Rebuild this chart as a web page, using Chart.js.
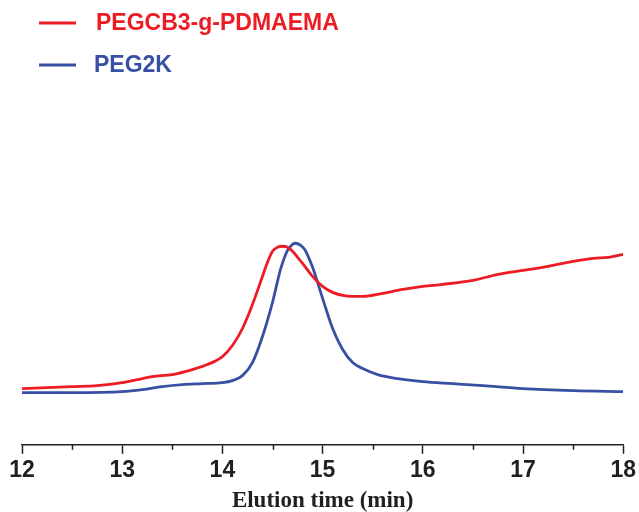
<!DOCTYPE html>
<html>
<head>
<meta charset="utf-8">
<script src="https://cdn.jsdelivr.net/npm/chart.js@4.4.0/dist/chart.umd.min.js"></script>
<style>
html,body{margin:0;padding:0;background:#fff;}
#wrap{width:639px;height:512px;position:relative;}
</style>
</head>
<body>
<div id="wrap"><canvas id="c" width="639" height="512"></canvas></div>
<script>
// Elution time (min)
const redTime = [12.00,12.25,12.50,12.75,13.00,13.15,13.30,13.50,13.70,13.85,14.00,14.10,14.20,14.30,14.40,14.45,14.50,14.55,14.60,14.65,14.70,14.75,14.80,14.90,15.00,15.10,15.20,15.30,15.40,15.60,15.80,16.00,16.20,16.50,16.75,17.00,17.25,17.50,17.70,17.85,18.00];
const redSignal = [53,54,55,56,59,62,65,67,72,77,85,96,113,137,165,179,190,194,195,194,190,184,178,165,155,149,146,145,145,148,152,155,157,161,167,171,175,180,183,184,187];
const blueTime = [12.00,12.50,13.00,13.20,13.40,13.60,13.80,14.00,14.10,14.20,14.30,14.40,14.50,14.58,14.65,14.70,14.73,14.78,14.82,14.90,15.00,15.10,15.20,15.30,15.40,15.55,15.75,16.00,16.30,16.60,17.00,17.50,18.00];
const blueSignal = [49,49,50,52,55,57,58,59,61,66,79,105,139,172,191,197,198,196,192,174,143,113,92,79,73,67,63,60,58,56,53,51,50];
const xTicks = [12,13,14,15,16,17,18];
const minorTicks = [12.5,13.5,14.5,15.5,16.5,17.5];
const seriesNames = ['PEGCB3-g-PDMAEMA','PEG2K'];
const seriesColors = ['#ED1C24','#3850A4'];

const toXY = (xs, ys) => xs.map((x,i)=>({x:x, y:ys[i]}));

const legendPlugin = {
  id:'customLegend',
  afterDraw(chart){
    const ctx = chart.ctx;
    ctx.save();
    const rows = [23, 65];
    seriesNames.forEach((name,i)=>{
      ctx.strokeStyle = seriesColors[i];
      ctx.lineWidth = 3;
      ctx.beginPath();
      ctx.moveTo(39, rows[i]);
      ctx.lineTo(76, rows[i]);
      ctx.stroke();
      ctx.fillStyle = seriesColors[i];
      ctx.font = 'bold 23px "Liberation Sans", Arial, sans-serif';
      ctx.textBaseline = 'middle';
      ctx.fillText(name, i===0 ? 96 : 94, rows[i]+1);
    });
    ctx.restore();
  }
};

const minorTickPlugin = {
  id:'minorTicks',
  afterDraw(chart){
    const sx = chart.scales.x;
    const ctx = chart.ctx;
    ctx.save();
    ctx.strokeStyle = '#231F20';
    ctx.lineWidth = 1.5;
    minorTicks.forEach(v=>{
      const px = Math.round(sx.getPixelForValue(v))+0.5;
      ctx.beginPath();
      ctx.moveTo(px, sx.top);
      ctx.lineTo(px, sx.top+5);
      ctx.stroke();
    });
    ctx.restore();
  }
};

new Chart(document.getElementById('c'), {
  type:'line',
  data:{
    datasets:[
      {label:seriesNames[0], data:toXY(redTime, redSignal), borderColor:seriesColors[0], borderWidth:2.8, pointRadius:0, cubicInterpolationMode:'monotone', fill:false},
      {label:seriesNames[1], data:toXY(blueTime, blueSignal), borderColor:seriesColors[1], borderWidth:2.8, pointRadius:0, cubicInterpolationMode:'monotone', fill:false}
    ]
  },
  options:{
    responsive:false,
    animation:false,
    layout:{padding:{top:144, left:22, right:6, bottom:-5}},
    plugins:{legend:{display:false}, tooltip:{enabled:false}},
    scales:{
      x:{
        type:'linear', min:12, max:18,
        afterBuildTicks(axis){ axis.ticks = xTicks.map(v=>({value:v})); },
        border:{display:true, color:'#231F20', width:1.5},
        grid:{drawOnChartArea:false, drawTicks:true, tickLength:9, tickColor:'#231F20', tickWidth:1.5},
        ticks:{color:'#231F20', padding:3, font:{family:'"Liberation Sans", Arial, sans-serif', size:23, weight:'bold'}},
        title:{display:true, text:'Elution time (min)', color:'#231F20', padding:{top:0,bottom:2}, font:{family:'"Liberation Serif", "Times New Roman", serif', size:23, weight:'bold'}}
      },
      y:{
        type:'linear', min:-3, max:297, display:false
      }
    }
  },
  plugins:[legendPlugin, minorTickPlugin]
});
</script>
</body>
</html>
